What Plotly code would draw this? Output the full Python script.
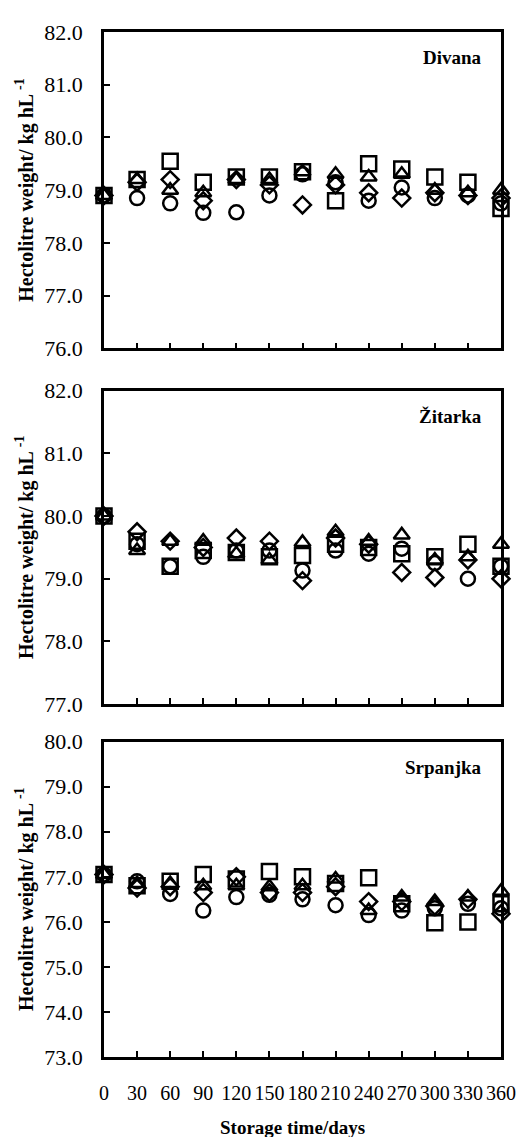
import plotly.graph_objects as go

days = [0, 30, 60, 90, 120, 150, 180, 210, 240, 270, 300, 330, 360]
x_ticks = [0, 30, 60, 90, 120, 150, 180, 210, 240, 270, 300, 330, 360]
x_tick_labels = [str(d) for d in x_ticks]

cultivars = ["Divana", "Žitarka", "Srpanjka"]

# Divana
div_square   = [78.9, 79.2, 79.55, 79.15, 79.25, 79.25, 79.35, 78.8, 79.5, 79.4, 79.25, 79.15, 78.65]
div_triangle = [78.9, 79.2, 79.0, 78.95, 79.2, 79.2, 79.35, 79.3, 79.25, 79.3, 79.0, 78.95, 79.0]
div_diamond  = [78.9, 79.15, 79.2, 78.8, 79.2, 79.1, 78.72, 79.1, 78.95, 78.85, 78.95, 78.9, 78.85]
div_circle   = [78.9, 78.85, 78.75, 78.57, 78.58, 78.9, 79.3, 79.15, 78.8, 79.05, 78.85, 78.9, 78.75]

# Žitarka
zit_square   = [80.0, 79.6, 79.2, 79.45, 79.42, 79.35, 79.37, 79.55, 79.5, 79.4, 79.35, 79.55, 79.2]
zit_triangle = [80.0, 79.45, 79.6, 79.6, 79.4, 79.3, 79.58, 79.75, 79.6, 79.7, 79.3, 79.35, 79.55]
zit_diamond  = [80.0, 79.75, 79.6, 79.5, 79.65, 79.6, 78.97, 79.65, 79.55, 79.1, 79.02, 79.3, 79.0]
zit_circle   = [80.0, 79.55, 79.2, 79.35, 79.45, 79.45, 79.13, 79.45, 79.4, 79.48, 79.25, 79.0, 79.2]

# Srpanjka
srp_square   = [77.05, 76.8, 76.9, 77.05, 76.95, 77.12, 77.0, 76.85, 76.98, 76.4, 75.98, 76.0, 76.4]
srp_triangle = [77.05, 76.85, 76.85, 76.8, 76.8, 76.78, 76.8, 76.95, 76.25, 76.55, 76.45, 76.55, 76.68]
srp_diamond  = [77.05, 76.75, 76.78, 76.65, 77.0, 76.65, 76.65, 76.78, 76.45, 76.45, 76.35, 76.5, 76.18]
srp_circle   = [77.05, 76.9, 76.62, 76.25, 76.55, 76.6, 76.5, 76.37, 76.15, 76.25, 76.3, 76.4, 76.3]

panels = [
    (div_square, div_triangle, div_diamond, div_circle),
    (zit_square, zit_triangle, zit_diamond, zit_circle),
    (srp_square, srp_triangle, srp_diamond, srp_circle),
]
y_ranges = [(76, 82), (77, 82), (73, 80)]
y_domains = [(0.6914, 1.0), (0.3443, 0.6500), (0.0, 0.3076)]

symbols = ["square-open", "triangle-up-open", "diamond-open", "circle-open"]
sizes = [15, 14, 13, 14]
series_names = ["Series 1", "Series 2", "Series 3", "Series 4"]

FONT = "Liberation Serif"

fig = go.Figure()
layout = dict(
    width=520, height=1129,
    margin=dict(l=96, r=15, t=12, b=80),
    paper_bgcolor="white", plot_bgcolor="white",
    showlegend=False,
    font=dict(family=FONT, color="black"),
)

annotations = []
for i, series in enumerate(panels):
    xa = "x" if i == 0 else f"x{i+1}"
    ya = "y" if i == 0 else f"y{i+1}"
    for s, vals in enumerate(series):
        fig.add_trace(go.Scatter(
            x=days, y=vals, mode="markers", name=series_names[s],
            xaxis=xa, yaxis=ya, cliponaxis=False,
            marker=dict(symbol=symbols[s], size=sizes[s], color="black",
                        line=dict(color="black", width=2.5)),
        ))
    xkey = "xaxis" if i == 0 else f"xaxis{i+1}"
    ykey = "yaxis" if i == 0 else f"yaxis{i+1}"
    lo, hi = y_ranges[i]
    layout[xkey] = dict(
        domain=[0, 1], anchor=ya, range=[0, 360],
        tickvals=x_ticks, ticktext=x_tick_labels,
        showticklabels=(i == 2),
        ticks="inside", ticklen=6, tickwidth=2, tickcolor="black",
        showline=True, linecolor="black", linewidth=2.5, mirror=True,
        showgrid=False, zeroline=False,
        tickfont=dict(family=FONT, size=20, color="black"),
        ticklabelstandoff=16,
    )
    layout[ykey] = dict(
        domain=list(y_domains[i]), anchor=xa, range=[lo, hi],
        dtick=1, tick0=lo, tickformat=".1f",
        ticks="inside", ticklen=6, tickwidth=2, tickcolor="black",
        showline=True, linecolor="black", linewidth=2.5, mirror=True,
        showgrid=False, zeroline=False,
        tickfont=dict(family=FONT, size=22, color="black"),
        ticklabelstandoff=14,
    )
    annotations.append(dict(
        text="<b>Hectolitre weight/ kg hL <sup>-1</sup></b>",
        xref="paper", yref=f"{ya} domain", x=-0.2, y=0.5,
        xanchor="center", yanchor="middle", textangle=-90, showarrow=False,
        font=dict(family=FONT, size=20, color="black"),
    ))
    annotations.append(dict(
        text=f"<b>{cultivars[i]}</b>",
        xref="paper", yref=f"{ya} domain", x=0.958, y=1 - 26 / 318,
        xanchor="right", yanchor="middle", showarrow=False,
        font=dict(family=FONT, size=19, color="black"),
    ))

annotations.append(dict(
    text="<b>Storage time/days</b>",
    xref="paper", yref="paper", x=0.474, y=-0.0685,
    xanchor="center", yanchor="middle", showarrow=False,
    font=dict(family=FONT, size=19, color="black"),
))
layout["annotations"] = annotations
fig.update_layout(**layout)
fig.write_html("out.html")
